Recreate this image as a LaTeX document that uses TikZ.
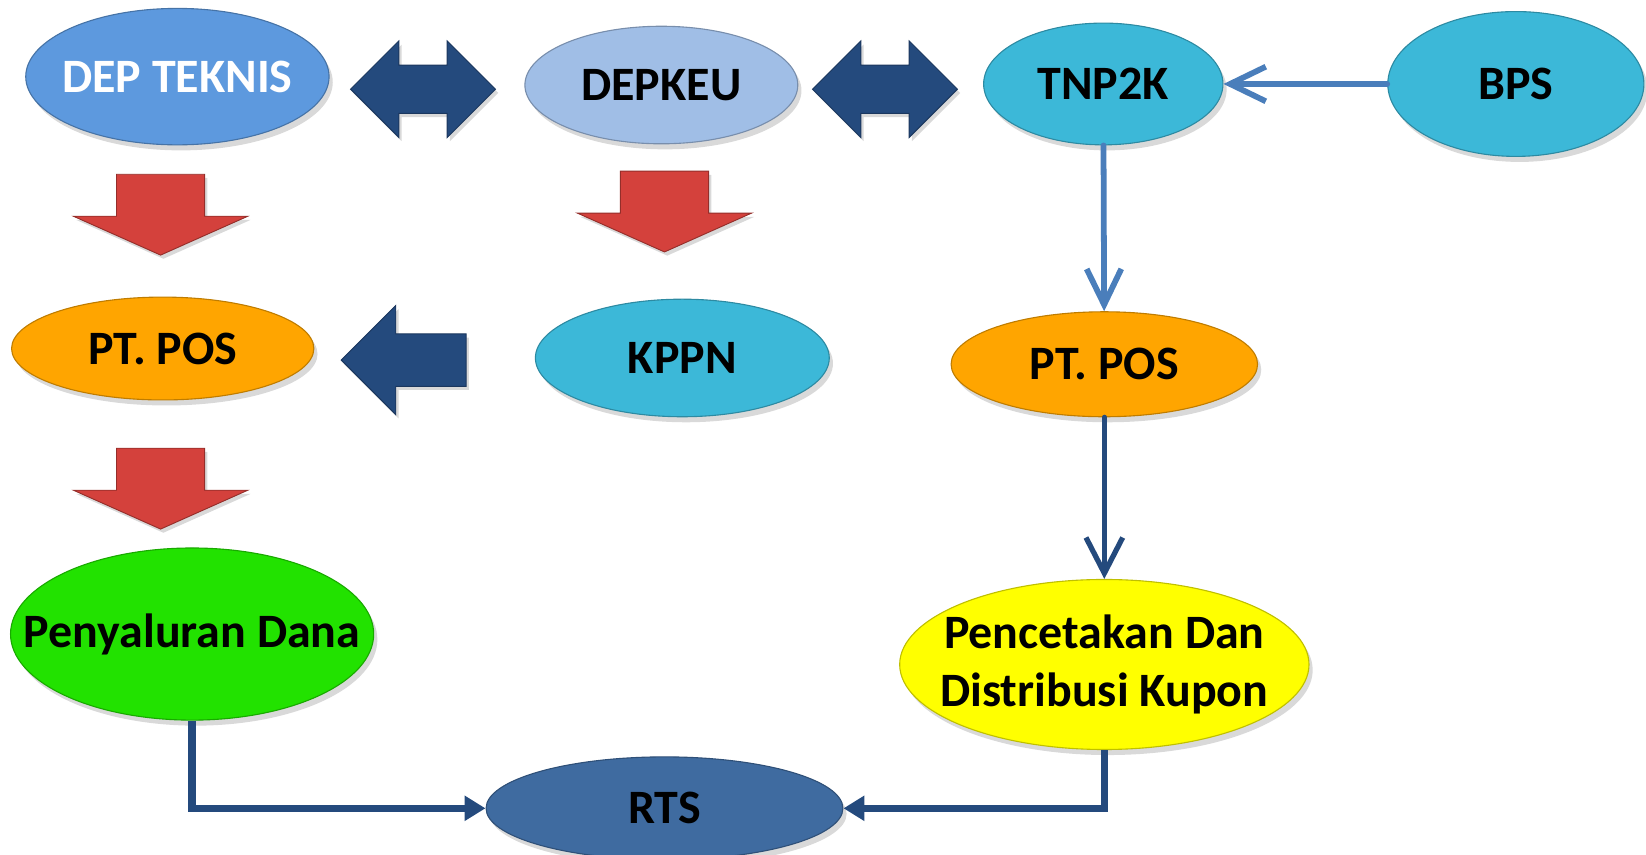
\documentclass[tikz,border=0pt]{standalone}
\usepackage{fontspec}
\setmainfont{Carlito}
\usetikzlibrary{shapes.geometric,arrows.meta,shadows}

\definecolor{cteknis}{RGB}{93,153,222}
\definecolor{ckeu}{RGB}{160,190,230}
\definecolor{cteal}{RGB}{60,184,216}
\definecolor{cpos}{RGB}{255,165,0}
\definecolor{cdana}{RGB}{34,226,0}
\definecolor{ckupon}{RGB}{255,255,0}
\definecolor{crts}{RGB}{63,107,160}
\definecolor{cnavy}{RGB}{36,74,125}
\definecolor{csteel}{RGB}{74,126,187}
\definecolor{cmerah}{RGB}{212,65,60}

\tikzset{
  oval/.style={ellipse, inner xsep=-3cm, inner ysep=-1.5cm, fill=#1, draw=#1!75!black, line width=0.6pt,
    font=\fontsize{26}{31}\selectfont\bfseries, align=center,
    drop shadow={shadow xshift=2pt, shadow yshift=-3pt, opacity=.3}},
  thinlink/.style={draw=csteel, line width=0.11cm, line cap=round,
    -{Straight Barb[length=0.68cm,width=0.66cm]}},
  navylink/.style={draw=cnavy, line width=0.1cm, line cap=round,
    -{Straight Barb[length=0.68cm,width=0.7cm]}},
  thicklink/.style={draw=cnavy, line width=0.14cm,
    -{Triangle[length=0.4cm,width=0.46cm]}},
  redblock/.style={fill=cmerah, draw=cmerah!70!black, line width=0.5pt,
    drop shadow={shadow xshift=1.5pt, shadow yshift=-2pt, opacity=.3}},
  blueblock/.style={fill=cnavy, draw=cnavy!75!black, line width=0.5pt,
    drop shadow={shadow xshift=1.5pt, shadow yshift=-2pt, opacity=.3}}
}

\begin{document}
\begin{tikzpicture}[x=0.02cm, y=-0.02cm]
  \useasboundingbox (0,0) rectangle (1568,814);

  \node[oval=cteknis, text=white, minimum width=5.78cm, minimum height=2.6cm] (dep) at (169,73) {DEP TEKNIS};
  \node[oval=ckeu, minimum width=5.2cm, minimum height=2.24cm] (depkeu) at (630,81) {DEPKEU};
  \node[oval=cteal, minimum width=4.56cm, minimum height=2.32cm] (tnp) at (1051,80) {TNP2K};
  \node[oval=cteal, minimum width=4.88cm, minimum height=2.76cm] (bps) at (1444,80) {BPS};
  \node[oval=cpos, minimum width=5.76cm, minimum height=1.96cm] (pos1) at (155,332) {PT. POS};
  \node[oval=cteal, minimum width=5.6cm, minimum height=2.24cm] (kppn) at (650,341) {KPPN};
  \node[oval=cpos, minimum width=5.84cm, minimum height=2.0cm] (pos2) at (1052,347) {PT. POS};
  \node[oval=cdana, minimum width=6.92cm, minimum height=3.28cm] (dana) at (183,604) {Penyaluran Dana};
  \node[oval=ckupon, minimum width=7.8cm, minimum height=3.24cm] (kupon) at (1052,633) {Pencetakan Dan\\Distribusi Kupon};
  \node[oval=crts, minimum width=6.8cm, minimum height=1.96cm] (rts) at (633,770) {RTS};

  % block arrows
  \foreach \x/\y in {153/166, 633/163, 153/427}
    \path[redblock] ({\x-42},\y) -- ({\x+42},\y) -- ({\x+42},{\y+40}) -- ({\x+83},{\y+40})
      -- (\x,{\y+77}) -- ({\x-83},{\y+40}) -- ({\x-42},{\y+40}) -- cycle;
  \foreach \x in {403,843}
    \path[blueblock] ({\x-69},85) -- ({\x-23},39) -- ({\x-23},62) -- ({\x+23},62) -- ({\x+23},39)
      -- ({\x+69},85) -- ({\x+23},131) -- ({\x+23},108) -- ({\x-23},108) -- ({\x-23},131) -- cycle;
  \path[blueblock] (325,343) -- (377,291) -- (377,318) -- (444,318) -- (444,368)
    -- (377,368) -- (377,395) -- cycle;

  % connectors
  \draw[thinlink] (bps) -- (tnp);
  \draw[thinlink] (tnp) -- (pos2);
  \draw[navylink] (pos2) -- (kupon);
  \draw[thicklink] (dana) |- (rts);
  \draw[thicklink] (kupon) |- (rts);
\end{tikzpicture}
\end{document}
